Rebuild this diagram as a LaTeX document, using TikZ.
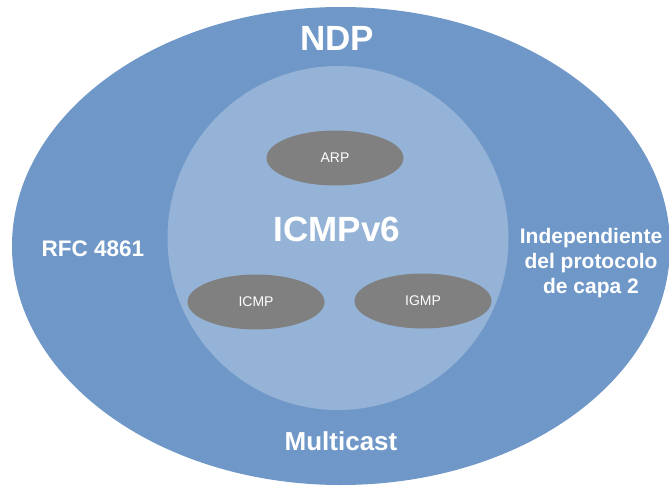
\documentclass[tikz,border=0pt]{standalone}
\usepackage{fontspec}
\setmainfont{Liberation Sans}
\usetikzlibrary{shapes.geometric}
\definecolor{outerblue}{RGB}{111,152,200}
\definecolor{innerblue}{RGB}{149,179,214}
\definecolor{protogray}{RGB}{128,128,128}
\begin{document}
\begin{tikzpicture}[x=1pt,y=-1pt,
  zone/.style={ellipse,draw=none,inner sep=0pt,outer sep=0pt},
  proto/.style={zone,fill=protogray,minimum width=137pt,minimum height=55pt,
    text=white,font=\fontsize{14}{16}\selectfont},
  biglabel/.style={text=white,font=\bfseries\fontsize{35}{40}\selectfont,inner sep=0pt},
  sidelabel/.style={text=white,inner sep=0pt,align=center}]
\useasboundingbox (0,0) rectangle (669,487);
\fill[white] (0,0) rectangle (669,487);
% NDP domain and ICMPv6 core
\node[zone,fill=outerblue,minimum width=658pt,minimum height=478pt] (ndp) at (341,246) {};
\node[zone,fill=innerblue,minimum width=341pt,minimum height=344pt] (icmpv6) at (338,238) {};
% protocols covered by ICMPv6
\node[proto] (arp) at (335,158) {ARP};
\node[proto] (icmp) at (256,302) {ICMP};
\node[proto] (igmp) at (423,301) {IGMP};
% labels
\node[biglabel] (ndplabel) at (337,38) {NDP};
\node[biglabel] (icmpv6label) at (337,229) {ICMPv6};
\node[sidelabel,font=\bfseries\fontsize{22.5}{26}\selectfont] (rfc) at (93,249) {RFC 4861};
\node[sidelabel,font=\bfseries\fontsize{21}{25}\selectfont] (indep) at (591,263)
  {Independiente\\del protocolo\\de capa 2};
\node[sidelabel,font=\bfseries\fontsize{26}{30}\selectfont] (mcast) at (341,441) {Multicast};
\end{tikzpicture}
\end{document}
